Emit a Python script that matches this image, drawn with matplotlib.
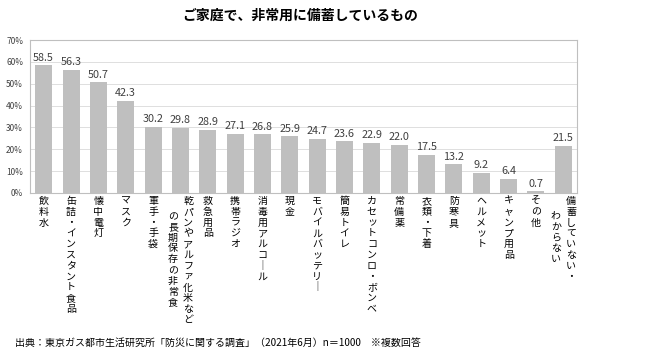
import matplotlib
matplotlib.use('Agg')
import matplotlib.pyplot as plt
import matplotlib.transforms as mtransforms
import numpy as np

plt.rcParams['font.family'] = ['Noto Sans CJK JP', 'DejaVu Sans']

# ── Data ────────────────────────────────────────────────────────────────────
TITLE = "ご家庭で、非常用に備蓄しているもの"
SOURCE = "出典：東京ガス都市生活研究所「防災に関する調査」（2021年6月）n＝1000　※複数回答"

categories = [
    ["飲料水"],
    ["缶詰・インスタント食品"],
    ["懐中電灯"],
    ["マスク"],
    ["軍手・手袋"],
    ["乾パンやアルファ化米など", "の長期保存の非常食"],
    ["救急用品"],
    ["携帯ラジオ"],
    ["消毒用アルコール"],
    ["現金"],
    ["モバイルバッテリー"],
    ["簡易トイレ"],
    ["カセットコンロ・ボンベ"],
    ["常備薬"],
    ["衣類・下着"],
    ["防寒具"],
    ["ヘルメット"],
    ["キャンプ用品"],
    ["その他"],
    ["備蓄していない・", "わからない"],
]
values = [58.5, 56.3, 50.7, 42.3, 30.2, 29.8, 28.9, 27.1, 26.8, 25.9,
          24.7, 23.6, 22.9, 22.0, 17.5, 13.2, 9.2, 6.4, 0.7, 21.5]
yticks = [0, 10, 20, 30, 40, 50, 60, 70]


def vertical(s):
    # stack characters top-to-bottom, long vowel drawn as vertical bar
    return "\n".join("｜" if c == "ー" else c for c in s)


# ── Figure ─────────────────────────────────────────────────────────────────
fig = plt.figure(figsize=(6.5, 3.58), dpi=100)
W, H = 650, 358
ax = fig.add_axes([30 / W, 1 - 193 / H, (577 - 30) / W, (193 - 40) / H])

x = np.arange(len(values))
ax.bar(x, values, width=0.62, color='#BFBFBF', zorder=2)
for xi, v in zip(x, values):
    ax.text(xi, v + 1.2, f"{v:.1f}", ha='center', va='bottom',
            fontsize=7.8, color='#404040')

ax.set_xlim(-0.5, len(values) - 0.5)
ax.set_ylim(0, 70)
ax.set_yticks(yticks)
ax.set_yticklabels([f"{t}%" for t in yticks], fontsize=6, color='#404040')
ax.set_xticks([])
ax.tick_params(axis='y', length=0, pad=5)
ax.grid(axis='y', color='#D9D9D9', lw=0.6, zorder=0)
for sp in ax.spines.values():
    sp.set_color('#BFBFBF')
    sp.set_linewidth(0.8)

# ── Vertical category labels ──────────────────────────────────────────────
trans = mtransforms.blended_transform_factory(ax.transData, fig.transFigure)
y_top = 1 - 196 / H
y_second = 1 - 211 / H
lab = dict(transform=trans, ha='center', va='top', fontsize=7.2,
           linespacing=1.1, color='#000000')
for xi, lines in zip(x, categories):
    if len(lines) == 1:
        ax.text(xi, y_top, vertical(lines[0]), **lab)
    else:
        ax.text(xi + 0.28, y_top, vertical(lines[0]), **lab)
        ax.text(xi - 0.27, y_second, vertical(lines[1]), **lab)

fig.text(300 / W, 1 - 16 / H, TITLE, ha='center', va='center',
         fontsize=10, fontweight='bold')
fig.text(15 / W, 1 - 343 / H, SOURCE, ha='left', va='center', fontsize=7.2)

fig.savefig('out.png', dpi=100)
